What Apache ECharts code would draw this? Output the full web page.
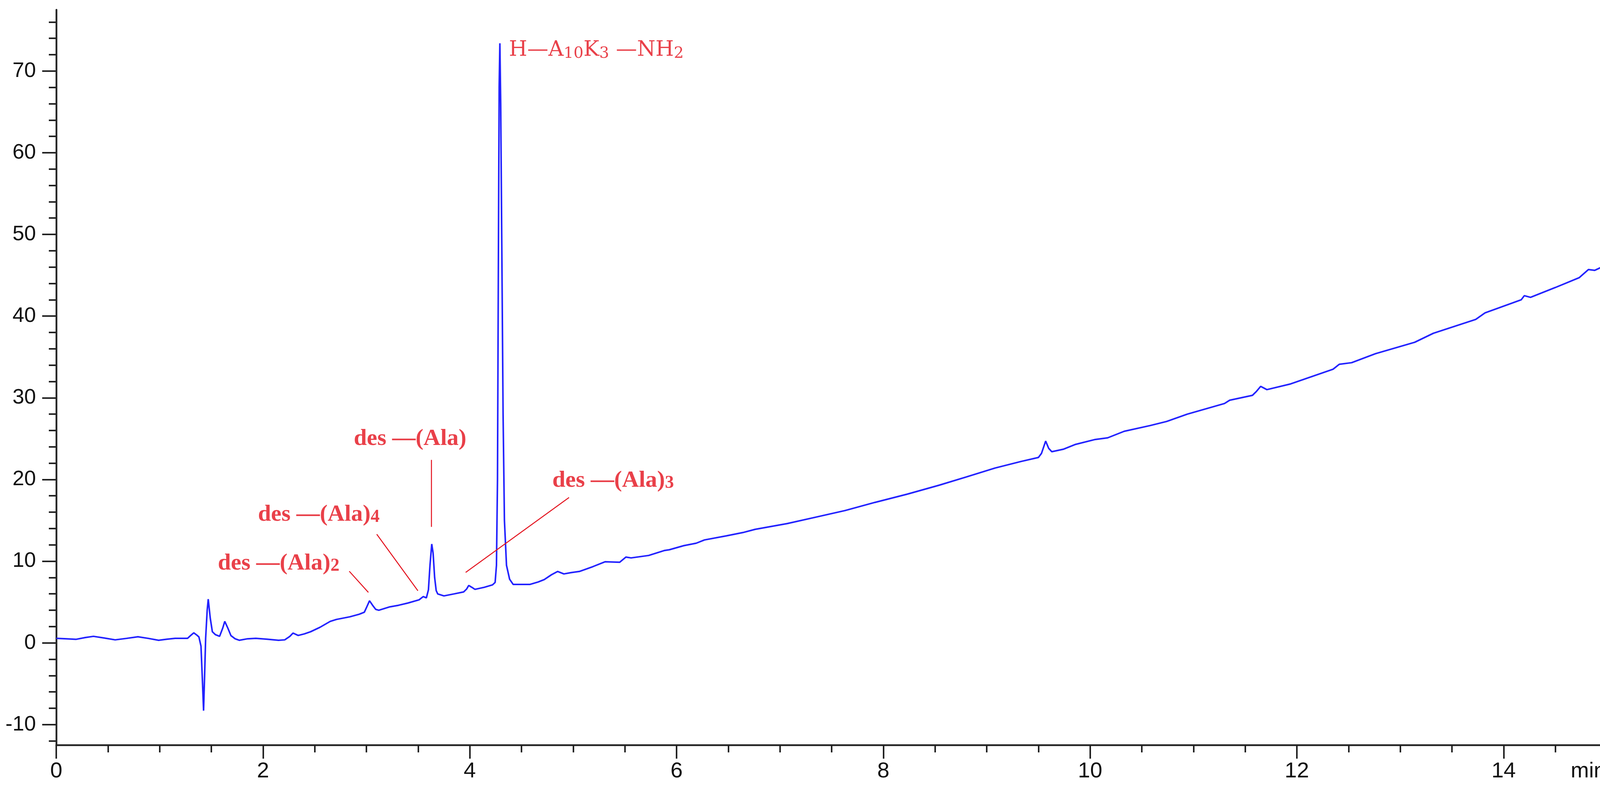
<!DOCTYPE html>
<html>
<head>
<meta charset="utf-8">
<script src="https://cdn.jsdelivr.net/npm/echarts@6/dist/echarts.min.js"></script>
<style>
html,body{margin:0;padding:0;background:#fff;}
#chart{width:4117px;height:2012px;}
</style>
</head>
<body>
<div id="chart"></div>
<script>
// retention time (min)
var timeMin = [
 0.00,0.10,0.19,0.28,0.36,0.46,0.57,0.68,0.79,0.89,0.99,1.07,1.15,1.27,1.30,1.33,1.36,1.38,1.40,1.415,
 1.425,1.435,1.445,1.46,1.47,1.49,1.51,1.54,1.58,1.61,1.63,1.66,1.69,1.73,1.77,1.85,1.93,2.04,2.15,2.21,
 2.26,2.29,2.34,2.40,2.46,2.55,2.65,2.71,2.84,2.93,2.98,3.00,3.03,3.06,3.09,3.12,3.22,3.31,3.40,3.51,
 3.55,3.58,3.60,3.615,3.632,3.645,3.66,3.675,3.69,3.75,3.85,3.94,3.97,3.99,4.02,4.05,4.14,4.22,4.245,4.258,
 4.268,4.276,4.284,4.291,4.299,4.31,4.322,4.335,4.355,4.385,4.42,4.50,4.58,4.66,4.72,4.79,4.85,4.91,4.98,5.06,
 5.19,5.31,5.45,5.51,5.56,5.73,5.88,5.93,6.07,6.19,6.27,6.48,6.64,6.76,7.07,7.35,7.63,7.92,8.23,8.54,
 8.80,9.08,9.33,9.50,9.53,9.57,9.60,9.63,9.74,9.86,10.05,10.17,10.33,10.58,10.74,10.94,11.30,11.35,11.57,11.61,
 11.65,11.71,11.94,12.35,12.41,12.53,12.76,13.14,13.32,13.73,13.82,14.17,14.20,14.26,14.50,14.73,14.82,14.88,15.00
];
// detector signal
var signal = [
 0.56,0.50,0.43,0.65,0.80,0.60,0.37,0.55,0.75,0.55,0.32,0.45,0.56,0.56,0.90,1.23,0.95,0.72,-0.4,-5.0,
 -8.3,-4.0,0.56,4.0,5.35,3.0,1.36,1.0,0.80,1.8,2.63,1.8,0.88,0.5,0.32,0.5,0.56,0.45,0.32,0.37,
 0.8,1.20,0.91,1.1,1.36,1.9,2.63,2.87,3.19,3.5,3.75,4.3,5.15,4.6,4.1,3.99,4.39,4.6,4.87,5.27,
 5.67,5.51,6.5,9.5,12.1,11.0,8.0,6.4,5.99,5.75,6.0,6.23,6.6,7.03,6.8,6.55,6.8,7.1,7.4,9.5,
 20,45,68,73.4,66,48,28,15,9.5,7.8,7.15,7.15,7.15,7.45,7.75,8.34,8.74,8.44,8.6,8.74,
 9.33,9.93,9.87,10.5,10.4,10.7,11.3,11.4,11.9,12.2,12.6,13.1,13.5,13.9,14.6,15.4,16.2,17.2,18.2,19.3,
 20.3,21.4,22.2,22.7,23.2,24.7,23.8,23.4,23.7,24.3,24.9,25.1,25.9,26.6,27.1,28.0,29.3,29.7,30.3,30.8,
 31.4,31.0,31.7,33.5,34.1,34.3,35.4,36.8,37.9,39.6,40.4,42.0,42.5,42.3,43.5,44.7,45.7,45.6,46.3
];
var xMajorTicks = [0,2,4,6,8,10,12,14];
var xMinorTicks = [0.5,1,1.5,2.5,3,3.5,4.5,5,5.5,6.5,7,7.5,8.5,9,9.5,10.5,11,11.5,12.5,13,13.5,14.5];
var yMajorTicks = [-10,0,10,20,30,40,50,60,70];
var yMinorTicks = [-12,-8,-6,-4,-2,2,4,6,8,12,14,16,18,22,24,26,28,32,34,36,38,42,44,46,48,52,54,56,58,62,64,66,68,72,74,76];

// peak annotations (anchor = left edge, vertical middle of text)
var annText = ['{b|H—A}{bs|10}{b|K}{bs|3}{b| —NH}{bs|2}', '{m|des —(Ala)}', '{m|des —(Ala)}{s|4}', '{m|des —(Ala)}{s|2}', '{m|des —(Ala)}{s|3}'];
var annX = [4.38, 2.88, 1.953, 1.565, 4.80];
var annY = [72.5, 24.96, 15.68, 9.7, 19.85];
// leader lines
var leaderFrom = [[3.63, 22.4], [3.10, 13.3], [2.834, 8.77], [4.96, 17.8]];
var leaderTo   = [[3.63, 14.2], [3.498, 6.38], [3.019, 6.18], [3.96, 8.62]];

var red = '#e3101c';
var blue = '#2222ff';
var axisColor = '#222';
var chart = echarts.init(document.getElementById('chart'));
var pts = timeMin.map(function (t, i) { return [t, signal[i]]; });

var annData = annText.map(function (t, i) {
  return { value: [annX[i], annY[i]], name: t };
});
var mlData = leaderFrom.map(function (p, i) {
  return [{ coord: p }, { coord: leaderTo[i] }];
});

chart.setOption({
  animation: false,
  backgroundColor: '#fff',
  grid: { left: 144, right: 3, top: 25, bottom: 105, containLabel: false },
  xAxis: [{
    type: 'value', min: 0, max: 15,
    name: 'min', nameLocation: 'end', nameGap: -93,
    nameTextStyle: { fontFamily: 'Liberation Sans', fontSize: 56, color: '#111', align: 'left', verticalAlign: 'top', padding: [40, 0, 0, 0] },
    axisLine: { show: true, onZero: false, lineStyle: { color: axisColor, width: 4.5 } },
    axisTick: { show: true, inside: false, length: 35, customValues: xMajorTicks, lineStyle: { color: axisColor, width: 4 } },
    axisLabel: { show: true, customValues: xMajorTicks, margin: 40, fontFamily: 'Liberation Sans', fontSize: 56, color: '#111' },
    splitLine: { show: false }
  }, {
    type: 'value', min: 0, max: 15, position: 'bottom', offset: 0,
    axisLine: { show: false, onZero: false },
    axisTick: { show: true, length: 19, customValues: xMinorTicks, lineStyle: { color: axisColor, width: 4 } },
    axisLabel: { show: false },
    splitLine: { show: false }
  }],
  yAxis: [{
    type: 'value', min: -12.5, max: 77.5,
    axisLine: { show: true, onZero: false, lineStyle: { color: axisColor, width: 4.5 } },
    axisTick: { show: true, length: 36, customValues: yMajorTicks, lineStyle: { color: axisColor, width: 4 } },
    axisLabel: { show: true, customValues: yMajorTicks, margin: 52, fontFamily: 'Liberation Sans', fontSize: 54, color: '#111' },
    splitLine: { show: false }
  }, {
    type: 'value', min: -12.5, max: 77.5, position: 'left', offset: 0,
    axisLine: { show: false, onZero: false },
    axisTick: { show: true, length: 19, customValues: yMinorTicks, lineStyle: { color: axisColor, width: 4 } },
    axisLabel: { show: false },
    splitLine: { show: false }
  }],
  series: [{
    type: 'line',
    xAxisIndex: 0, yAxisIndex: 0,
    data: pts,
    showSymbol: false,
    smooth: false,
    lineStyle: { color: blue, width: 4 },
    itemStyle: { color: blue },
    markLine: {
      silent: true, symbol: ['none', 'none'],
      label: { show: false },
      lineStyle: { color: red, width: 2.5, type: 'solid' },
      data: mlData
    }
  }, {
    type: 'scatter',
    xAxisIndex: 0, yAxisIndex: 0,
    silent: true,
    symbol: 'circle', symbolSize: 1,
    itemStyle: { color: 'rgba(0,0,0,0)' },
    label: {
      show: true,
      position: [0, 0],
      align: 'left', verticalAlign: 'middle',
      formatter: function (p) { return p.name; },
      rich: {
        m: { fontFamily: 'Liberation Serif', fontWeight: 'bold', fontSize: 60, lineHeight: 60, color: red },
        s: { fontFamily: 'Liberation Serif', fontWeight: 'bold', fontSize: 46, lineHeight: 36, verticalAlign: 'bottom', color: red },
        b: { fontFamily: 'DejaVu Serif', fontSize: 54, lineHeight: 58, color: red },
        bs: { fontFamily: 'DejaVu Serif', fontSize: 40, lineHeight: 34, verticalAlign: 'bottom', color: red }
      }
    },
    data: annData
  }]
});
</script>
</body>
</html>
